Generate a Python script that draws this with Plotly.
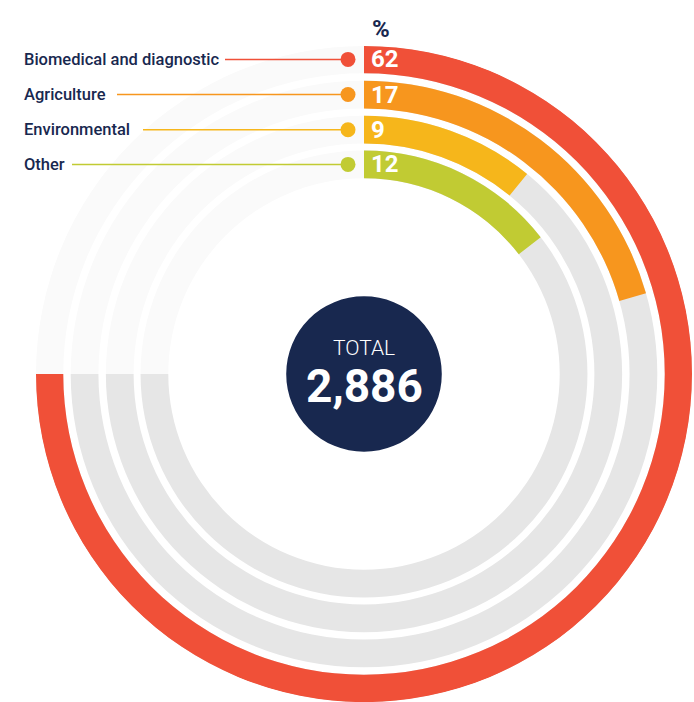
import plotly.graph_objects as go

# ---------------- data ----------------
categories = ["Biomedical and diagnostic", "Agriculture", "Environmental", "Other"]
values = [62, 17, 9, 12]
value_labels = ["62", "17", "9", "12"]
unit_label = "%"
total_title = "TOTAL"
total_label = "2,886"

# ---------------- style ----------------
colors = ["#F05038", "#F7961E", "#F6B61B", "#C1CB33"]
NAVY = "#18284F"
TRACK = "#E6E6E6"
TRACK_LIGHT = "#FAFAFA"
FONT = "Roboto"

W, H = 694, 702
CX, CY = 364, 374          # centre of the dial (px)
R_UNITS = 331              # radial axis length (units)
R_PX = 328                 # drawn radius (px)
s = R_PX / R_UNITS

ring_inner = [303.5, 268, 232.5, 197.5]   # radial units, outer -> inner
ring_w = 28
disc_r = 78.5
full_deg = 270                              # max value spans 3/4 of circle
k = full_deg / max(values)

label_line_start = [225, 117, 143, 72]     # px, where leader lines begin
dot_x = CX - 16
dot_r = 7.5


def px_to_paper(x, y):
    return x / W, 1 - y / H


fig = go.Figure()

# background tracks
fig.add_trace(go.Barpolar(
    r=[ring_w] * 4, base=ring_inner,
    theta=[full_deg / 2] * 4, width=[full_deg] * 4,
    marker=dict(color=TRACK, line=dict(width=0)), hoverinfo="skip"))
fig.add_trace(go.Barpolar(
    r=[ring_w] * 4, base=ring_inner,
    theta=[(full_deg + 360) / 2] * 4, width=[360 - full_deg] * 4,
    marker=dict(color=TRACK_LIGHT, line=dict(width=0)), hoverinfo="skip"))

# value bars
fig.add_trace(go.Barpolar(
    r=[ring_w] * 4, base=ring_inner,
    theta=[v * k / 2 for v in values], width=[v * k for v in values],
    marker=dict(color=colors, line=dict(width=0)),
    text=categories, hovertemplate="%{text}: %{customdata}%<extra></extra>",
    customdata=values))

shapes = []
annotations = []

# centre disc
shapes.append(dict(type="circle", xref="paper", yref="paper",
                   x0=(CX - disc_r * s) / W, x1=(CX + disc_r * s) / W,
                   y0=1 - (CY + disc_r * s) / H, y1=1 - (CY - disc_r * s) / H,
                   fillcolor=NAVY, line=dict(width=0), layer="above"))

for i, (cat, lab, col) in enumerate(zip(categories, value_labels, colors)):
    ymid = CY - (ring_inner[i] + ring_w / 2) * s
    # leader line
    x0, y0 = px_to_paper(label_line_start[i], ymid)
    x1, _ = px_to_paper(dot_x, ymid)
    shapes.append(dict(type="line", xref="paper", yref="paper",
                       x0=x0, x1=x1, y0=y0, y1=y0,
                       line=dict(color=col, width=1.5)))
    # dot
    shapes.append(dict(type="circle", xref="paper", yref="paper",
                       x0=(dot_x - dot_r) / W, x1=(dot_x + dot_r) / W,
                       y0=1 - (ymid + dot_r) / H, y1=1 - (ymid - dot_r) / H,
                       fillcolor=col, line=dict(width=0)))
    # category label
    lx, ly = px_to_paper(22, ymid)
    annotations.append(dict(x=lx, y=ly, xref="paper", yref="paper",
                            text=cat, showarrow=False, xanchor="left", yanchor="middle",
                            font=dict(family=FONT, size=16.5, color=NAVY, weight=500)))
    # value label
    vx, vy = px_to_paper(CX + 5, ymid)
    annotations.append(dict(x=vx, y=vy, xref="paper", yref="paper",
                            text="<b>%s</b>" % lab, showarrow=False,
                            xanchor="left", yanchor="middle",
                            font=dict(family=FONT, size=24, color="white")))

# % header
hx, hy = px_to_paper(CX + 6, 29)
annotations.append(dict(x=hx, y=hy, xref="paper", yref="paper",
                        text="<b>%s</b>" % unit_label, showarrow=False,
                        xanchor="left", yanchor="middle",
                        font=dict(family=FONT, size=24, color=NAVY)))

# total
tx, ty = px_to_paper(CX, CY - 26)
annotations.append(dict(x=tx, y=ty, xref="paper", yref="paper", text=total_title,
                        showarrow=False, xanchor="center", yanchor="middle",
                        font=dict(family=FONT, size=21, color="white", weight=300)))
nx, ny = px_to_paper(CX, CY + 12)
annotations.append(dict(x=nx, y=ny, xref="paper", yref="paper",
                        text="<b>%s</b>" % total_label,
                        showarrow=False, xanchor="center", yanchor="middle",
                        font=dict(family=FONT, size=46, color="white")))

fig.update_layout(
    width=W, height=H,
    margin=dict(l=0, r=0, t=0, b=0),
    paper_bgcolor="white",
    showlegend=False,
    polar=dict(
        domain=dict(x=[(CX - R_PX) / W, (CX + R_PX) / W],
                    y=[1 - (CY + R_PX) / H, 1 - (CY - R_PX) / H]),
        bgcolor="white",
        barmode="overlay",
        radialaxis=dict(range=[0, R_UNITS], visible=False, showgrid=False),
        angularaxis=dict(rotation=90, direction="clockwise", visible=False,
                         showgrid=False, thetaunit="degrees"),
    ),
    shapes=shapes,
    annotations=annotations,
)

fig.write_html("out.html", include_plotlyjs=True,
               config={"displayModeBar": False},
               post_script="document.body.style.margin='0';document.body.style.overflow='hidden';")
